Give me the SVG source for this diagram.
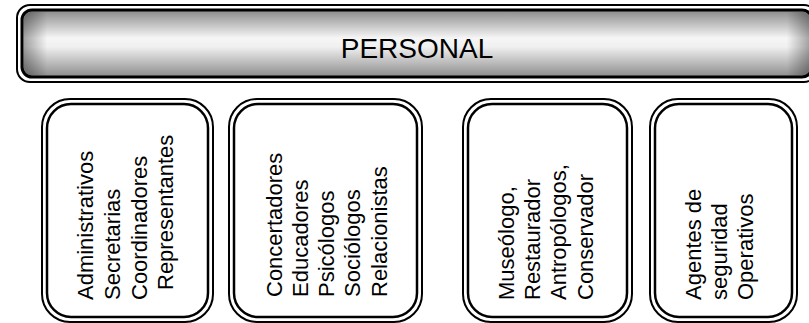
<svg xmlns="http://www.w3.org/2000/svg" width="809" height="323" viewBox="0 0 809 323">
  <defs>
    <linearGradient id="gv" x1="0" y1="0" x2="0" y2="1">
      <stop offset="0" stop-color="#8a8a8a"/>
      <stop offset="0.42" stop-color="#f6f6f6"/>
      <stop offset="0.55" stop-color="#f0f0f0"/>
      <stop offset="1" stop-color="#8c8c8c"/>
    </linearGradient>
    <linearGradient id="gh" x1="0" y1="0" x2="1" y2="0">
      <stop offset="0" stop-color="#000" stop-opacity="0.35"/>
      <stop offset="0.03" stop-color="#000" stop-opacity="0"/>
      <stop offset="0.97" stop-color="#000" stop-opacity="0"/>
      <stop offset="1" stop-color="#000" stop-opacity="0.35"/>
    </linearGradient>
    <style>
      .outer { fill: #fff; stroke: #000; stroke-width: 2; }
      .inner { fill: #fff; stroke: #000; stroke-width: 2.5; }
      .lbl { font-family: "Liberation Sans", Arial, sans-serif; font-size: 22px; fill: #000; }
      .title { font-family: "Liberation Sans", Arial, sans-serif; font-size: 28px; fill: #000; text-anchor: middle; }
    </style>
  </defs>
  <rect width="809" height="323" fill="#fff"/>

  <g id="personal">
    <rect x="17" y="5" width="800" height="77" rx="13" fill="#fff" stroke="#000" stroke-width="2"/>
    <rect x="22" y="10" width="790" height="67" rx="10" fill="url(#gv)" stroke="#000" stroke-width="3"/>
    <rect x="23.5" y="11.5" width="787" height="64" rx="9" fill="url(#gh)"/>
    <text class="title" x="417" y="58">PERSONAL</text>
  </g>

  <g id="connectors"></g>

  <g id="box1">
    <rect class="outer" x="42" y="99" width="171" height="223" rx="28"/>
    <rect class="inner" x="47" y="104" width="161" height="213" rx="24"/>
    <text class="lbl" transform="translate(93,300) rotate(-90)">Administrativos</text>
    <text class="lbl" transform="translate(120,300) rotate(-90)">Secretarias</text>
    <text class="lbl" transform="translate(147,300) rotate(-90)">Coordinadores</text>
    <text class="lbl" transform="translate(173,290) rotate(-90)">Representantes</text>
  </g>

  <g id="box2">
    <rect class="outer" x="229" y="99" width="193" height="223" rx="28"/>
    <rect class="inner" x="234" y="104" width="183" height="213" rx="24"/>
    <text class="lbl" transform="translate(282,297) rotate(-90)">Concertadores</text>
    <text class="lbl" transform="translate(308,297) rotate(-90)">Educadores</text>
    <text class="lbl" transform="translate(334,297) rotate(-90)">Psicólogos</text>
    <text class="lbl" transform="translate(360,297) rotate(-90)">Sociólogos</text>
    <text class="lbl" transform="translate(387,297) rotate(-90)">Relacionistas</text>
  </g>

  <g id="box3">
    <rect class="outer" x="463" y="99" width="169" height="223" rx="28"/>
    <rect class="inner" x="468" y="104" width="159" height="213" rx="24"/>
    <text class="lbl" transform="translate(514,300) rotate(-90)">Museólogo,</text>
    <text class="lbl" transform="translate(540,300) rotate(-90)">Restaurador</text>
    <text class="lbl" transform="translate(566,300) rotate(-90)">Antropólogos,</text>
    <text class="lbl" transform="translate(593,300) rotate(-90)">Conservador</text>
  </g>

  <g id="box4">
    <rect class="outer" x="650" y="99" width="147" height="223" rx="28"/>
    <rect class="inner" x="655" y="104" width="137" height="213" rx="24"/>
    <text class="lbl" transform="translate(701,300) rotate(-90)">Agentes de</text>
    <text class="lbl" transform="translate(727,300) rotate(-90)">seguridad</text>
    <text class="lbl" transform="translate(753,300) rotate(-90)">Operativos</text>
  </g>
</svg>
